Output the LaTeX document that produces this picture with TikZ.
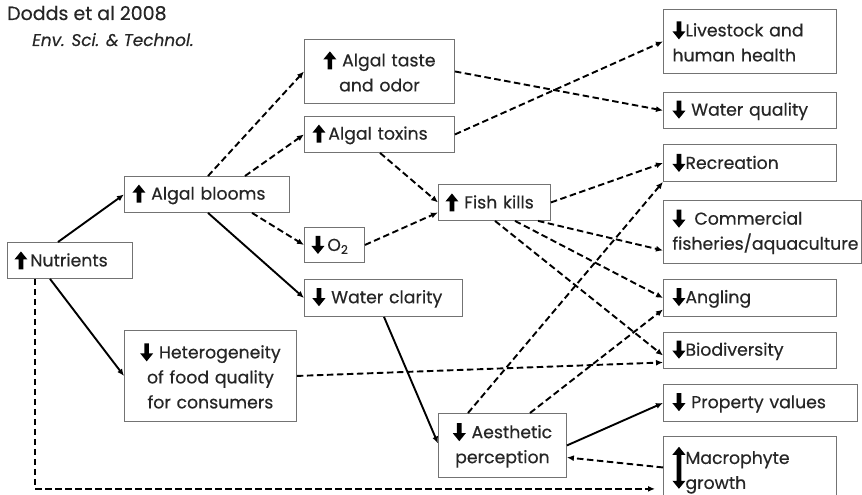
\documentclass[tikz,border=0pt]{standalone}
\usepackage{fontspec}
\setmainfont{Poppins}[FakeBold=0.4]
\usetikzlibrary{arrows.meta}
\newcommand\upa{\tikz[baseline=0pt]\fill[black,solid] (-2.3pt,-3pt) -- (2.3pt,-3pt) -- (2.3pt,7pt) -- (6.5pt,7pt) -- (0pt,15pt) -- (-6.5pt,7pt) -- (-2.3pt,7pt) -- cycle;}
\newcommand\dna{\tikz[baseline=0pt]\fill[black,solid] (-2.3pt,15pt) -- (2.3pt,15pt) -- (2.3pt,5pt) -- (6.5pt,5pt) -- (0pt,-3pt) -- (-6.5pt,5pt) -- (-2.3pt,5pt) -- cycle;}
\newcommand\uda{\tikz[baseline=-8pt]\fill[black,solid] (-2.3pt,13pt) -- (-6.5pt,13pt) -- (0pt,21pt) -- (6.5pt,13pt) -- (2.3pt,13pt) -- (2.3pt,-13pt) -- (6.5pt,-13pt) -- (0pt,-21pt) -- (-6.5pt,-13pt) -- (-2.3pt,-13pt) -- cycle;}
\tikzset{
  box/.style={draw=black!55, line width=0.9pt, anchor=north west, inner ysep=0pt,
    font=\fontsize{17.3}{25}\selectfont, text=black!85},
  con/.style={line width=1.9pt, -{Latex[length=7pt,width=6pt]}},
  dsh/.style={con, dash pattern=on 6.5pt off 3.5pt},
  ttl/.style={anchor=base west, inner sep=0pt, font=\fontsize{19}{22}\selectfont, text=black!85}
}
\begin{document}
\begin{tikzpicture}[x=1pt,y=-1pt]
\useasboundingbox[fill=white] (0,0) rectangle (862,495);
% titles
\node[ttl] (t1) at (7,20) {Dodds et al 2008};
\node[ttl, font=\fontsize{16.9}{20}\selectfont\itshape] (t2) at (32,46) {Env. Sci. \& Technol.};
% boxes
\node[box, minimum width=125pt, minimum height=36pt, inner xsep=7pt, text width=111pt, align=left] (nut) at (7,242) {\upa\,Nutrients};
\node[box, minimum width=165pt, minimum height=36pt, inner xsep=8pt, text width=149pt, align=left] (blm) at (124,176) {\upa\ Algal blooms};
\node[box, minimum width=150pt, minimum height=64pt, inner xsep=4pt, text width=142pt, align=center] (tst) at (304,39) {\upa\ Algal taste\\and odor};
\node[box, minimum width=150pt, minimum height=36pt, inner xsep=8pt, text width=134pt, align=left] (tox) at (304,116) {\upa\,Algal toxins};
\node[box, minimum width=60pt, minimum height=35pt, inner xsep=7pt, text width=46pt, align=left] (oxy) at (304,227) {\dna\,O\textsubscript{2}};
\node[box, minimum width=158pt, minimum height=37pt, inner xsep=8pt, text width=142pt, align=left] (clr) at (304,279) {\dna\ Water clarity};
\node[box, minimum width=112pt, minimum height=36pt, inner xsep=7pt, text width=98pt, align=left] (fsh) at (438,184) {\upa\ Fish kills};
\node[box, minimum width=172pt, minimum height=91pt, inner xsep=4pt, text width=164pt, align=center] (het) at (124,330) {\dna\ Heterogeneity\\of food quality\\for consumers};
\node[box, minimum width=128pt, minimum height=64pt, inner xsep=4pt, text width=120pt, align=center] (aes) at (438,413) {\dna\ Aesthetic\\perception};
\node[box, minimum width=173pt, minimum height=64pt, inner xsep=9pt, text width=155pt, align=left] (liv) at (663,9) {\dna Livestock and\\human health};
\node[box, minimum width=173pt, minimum height=36pt, inner xsep=9pt, text width=155pt, align=left] (wq) at (663,92) {\dna\ Water quality};
\node[box, minimum width=173pt, minimum height=37pt, inner xsep=9pt, text width=155pt, align=left] (rec) at (663,144) {\dna Recreation};
\node[box, minimum width=198pt, minimum height=63pt, inner xsep=9pt, text width=180pt, align=left] (com) at (663,200) {\dna\hspace{9pt}Commercial\\fisheries/aquaculture};
\node[box, minimum width=173pt, minimum height=37pt, inner xsep=9pt, text width=155pt, align=left] (ang) at (663,279) {\dna Angling};
\node[box, minimum width=173pt, minimum height=36pt, inner xsep=9pt, text width=155pt, align=left] (bio) at (663,332) {\dna Biodiversity};
\node[box, minimum width=194pt, minimum height=37pt, inner xsep=9pt, text width=176pt, align=left] (prp) at (663,384) {\dna\ Property values};
\node[box, minimum width=173pt, minimum height=70pt, inner xsep=9pt, text width=155pt, align=left] (mac) at (663,436) {\uda\begin{tabular}{@{}l@{}}Macrophyte\\growth\end{tabular}};
% connectors
\draw[con] ([xshift=51pt]nut.north west) -- (blm.west);
\draw[con] ([xshift=43pt]nut.south west) -- (het.west);
\coordinate (macin) at ([yshift=18pt]mac.south west);
\draw[dsh, shorten >=8pt] ([xshift=28pt]nut.south west) |- (macin);
\draw[dsh] ([xshift=84pt]blm.north west) -- (tst.west);
\draw[dsh] ([xshift=121pt]blm.north west) -- (tox.west);
\draw[dsh] ([xshift=128pt]blm.south west) -- (oxy.west);
\draw[con] ([xshift=84pt]blm.south west) -- (clr.west);
\draw[dsh] (tst.east) -- (wq.west);
\draw[dsh] (tox.east) -- (liv.west);
\draw[dsh] ([xshift=76pt]tox.south west) -- (fsh.west);
\draw[dsh] (oxy.east) -- ([yshift=-10pt]fsh.west);
\draw[dsh] (fsh.east) -- (rec.west);
\draw[dsh] ([xshift=100pt]fsh.south west) -- ([yshift=-18.5pt]com.west);
\draw[dsh] ([xshift=77pt]fsh.south west) -- (ang.west);
\draw[dsh] ([xshift=57pt]fsh.south west) -- ([yshift=-5pt]bio.west);
\draw[dsh] (het.east) -- ([yshift=-12pt]bio.west);
\draw[con] ([xshift=80pt]clr.south west) -- ([yshift=2pt]aes.west);
\draw[dsh] ([xshift=30pt]aes.north west) -- (rec.south west);
\draw[dsh] ([xshift=92pt]aes.north west) -- ([yshift=-11.5pt]ang.west);
\draw[con] (aes.east) -- (prp.west);
\draw[dsh] ([yshift=4pt]mac.west) -- ([yshift=-12pt]aes.east);
\end{tikzpicture}
\end{document}
